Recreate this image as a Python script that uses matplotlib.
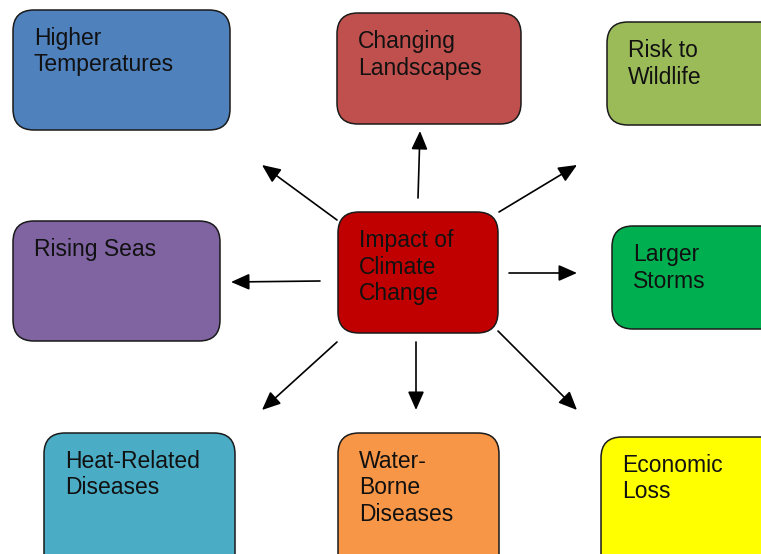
import numpy as np
import matplotlib as mpl
mpl.use('Agg')
import matplotlib.pyplot as plt
from matplotlib.patches import FancyBboxPatch

plt.rcParams['font.family'] = ['Liberation Sans', 'DejaVu Sans']

# Boxes of the diagram
labels = ['Higher\nTemperatures', 'Changing\nLandscapes', 'Risk to\nWildlife',
          'Rising Seas', 'Impact of\nClimate\nChange', 'Larger\nStorms',
          'Heat-Related\nDiseases', 'Water-\nBorne\nDiseases', 'Economic\nLoss']
colors = ['#4F81BD', '#C0504D', '#9BBB59',
          '#8064A2', '#C00000', '#00B050',
          '#4BACC6', '#F79646', '#FFFF00']
# box extents in pixels: left, top, right, bottom
box_left = [13, 337, 607, 13, 338, 612, 44, 338, 601]
box_top = [10, 13, 22, 221, 212, 226, 433, 433, 437]
box_right = [230, 521, 790, 220, 498, 790, 235, 499, 790]
box_bottom = [130, 124, 125, 341, 333, 329, 580, 580, 580]

# arrows from the centre box: tail -> tip
arrow_tail = [(337, 220), (418, 198), (499, 212), (320, 281),
              (509, 273), (337, 342), (416, 342), (498, 331)]
arrow_tip = [(262, 165), (420, 131), (577, 165), (231, 282),
             (577, 273), (262, 410), (416, 410), (577, 410)]

W, H = 761, 554
fig = plt.figure(figsize=(W / 100, H / 100), dpi=100)
ax = fig.add_axes([0, 0, 1, 1])
ax.set_xlim(0, W)
ax.set_ylim(H, 0)
ax.axis('off')

for lab, col, l, t, r, b in zip(labels, colors, box_left, box_top, box_right, box_bottom):
    patch = FancyBboxPatch((l, t), r - l, b - t,
                           boxstyle='round,pad=0,rounding_size=21',
                           facecolor=col, edgecolor='#1a1a1a', linewidth=1.1)
    ax.add_patch(patch)
    for i, line in enumerate(lab.split('\n')):
        ax.text(l + 21, t + 35 + i * 26.5, line, fontsize=16.5, color='#111111',
                ha='left', va='baseline')

for tail, tip in zip(arrow_tail, arrow_tip):
    ax.annotate('', xy=tip, xytext=tail,
                arrowprops=dict(arrowstyle='-|>,head_length=0.75,head_width=0.33',
                                color='black', lw=1.2, mutation_scale=15,
                                shrinkA=0, shrinkB=0))

fig.savefig('out.png', dpi=100)
